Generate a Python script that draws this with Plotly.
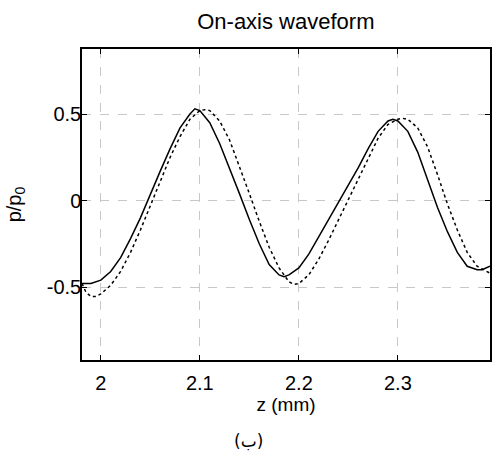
import plotly.graph_objects as go

z_solid = [1.981, 1.99, 2.00, 2.01, 2.02, 2.03, 2.04, 2.05, 2.06, 2.07, 2.08, 2.09, 2.095,
           2.10, 2.11, 2.12, 2.13, 2.14, 2.15, 2.16, 2.17, 2.18, 2.185, 2.19, 2.20, 2.21,
           2.22, 2.23, 2.24, 2.25, 2.26, 2.27, 2.28, 2.29, 2.295, 2.30, 2.31, 2.32, 2.33,
           2.34, 2.35, 2.36, 2.37, 2.38, 2.385, 2.393]
p_solid = [-0.48, -0.48, -0.46, -0.41, -0.33, -0.22, -0.10, 0.04, 0.17, 0.30, 0.42, 0.50, 0.53,
           0.52, 0.45, 0.33, 0.19, 0.04, -0.11, -0.25, -0.37, -0.43, -0.44, -0.43, -0.39, -0.31,
           -0.21, -0.11, -0.01, 0.09, 0.19, 0.30, 0.40, 0.46, 0.47, 0.46, 0.40, 0.28, 0.12,
           -0.04, -0.18, -0.30, -0.38, -0.40, -0.40, -0.38]

z_dot = [1.981, 1.985, 1.99, 1.995, 2.00, 2.01, 2.02, 2.03, 2.04, 2.05, 2.06, 2.07, 2.08, 2.09,
         2.10, 2.105, 2.11, 2.12, 2.13, 2.14, 2.15, 2.16, 2.17, 2.18, 2.19, 2.195, 2.20, 2.21,
         2.22, 2.23, 2.24, 2.25, 2.26, 2.27, 2.28, 2.29, 2.30, 2.305, 2.31, 2.32, 2.33, 2.34,
         2.35, 2.36, 2.37, 2.38, 2.393]
p_dot = [-0.48, -0.53, -0.555, -0.555, -0.54, -0.49, -0.41, -0.30, -0.17, -0.03, 0.11, 0.25, 0.37, 0.47,
         0.52, 0.525, 0.52, 0.46, 0.35, 0.20, 0.04, -0.12, -0.27, -0.39, -0.47, -0.485, -0.48, -0.43,
         -0.34, -0.23, -0.11, 0.01, 0.13, 0.25, 0.36, 0.44, 0.47, 0.475, 0.47, 0.42, 0.31, 0.15,
         -0.02, -0.17, -0.30, -0.38, -0.42]

x_ticks = [2.0, 2.1, 2.2, 2.3]
x_tick_labels = ["2", "2.1", "2.2", "2.3"]
y_ticks = [-0.5, 0, 0.5]
y_tick_labels = ["-0.5", "0", "0.5"]

FONT = "Liberation Sans, Arial, sans-serif"

fig = go.Figure()
fig.add_trace(go.Scatter(x=z_solid, y=p_solid, mode="lines",
                         line=dict(color="black", width=1.5), showlegend=False))
fig.add_trace(go.Scatter(x=z_dot, y=p_dot, mode="lines",
                         line=dict(color="black", width=1.5, dash="dot"), showlegend=False))

axis_common = dict(showline=True, linecolor="black", linewidth=1.5, mirror="ticks",
                   ticks="inside", ticklen=5, tickcolor="black", tickwidth=1.2,
                   showgrid=True, gridcolor="#c8c8c8", griddash="dash", gridwidth=1,
                   zeroline=False, automargin=False,
                   tickfont=dict(size=20, color="black", family=FONT))

fig.update_xaxes(range=[1.981, 2.393], tickvals=x_ticks, ticktext=x_tick_labels,
                 ticklabelstandoff=4,
                 title=dict(text="z (mm)", font=dict(size=19, color="black", family=FONT), standoff=4),
                 **axis_common)
fig.update_yaxes(range=[-0.922, 0.876], tickvals=y_ticks, ticktext=y_tick_labels,
                 ticklabelstandoff=-5,
                 title=dict(text="p/p<sub>0</sub>", font=dict(size=20, color="black", family=FONT), standoff=20),
                 **axis_common)

fig.update_layout(
    width=492, height=452,
    margin=dict(l=82, r=2, t=49, b=92),
    paper_bgcolor="white", plot_bgcolor="white",
    title=dict(text="On-axis waveform", x=0.581, xanchor="center", yref="container",
               y=1 - 21 / 452, yanchor="middle",
               font=dict(size=22, color="black", family=FONT)),
    annotations=[dict(text="(ب)", xref="paper", yref="paper", x=0.407, y=-0.262,
                      xanchor="center", yanchor="middle", showarrow=False,
                      font=dict(size=17, color="black", family="DejaVu Sans, sans-serif"))],
)

fig.write_html("out.html", config={"displayModeBar": False},
               post_script="document.body.style.margin='0';document.body.style.padding='0';")
